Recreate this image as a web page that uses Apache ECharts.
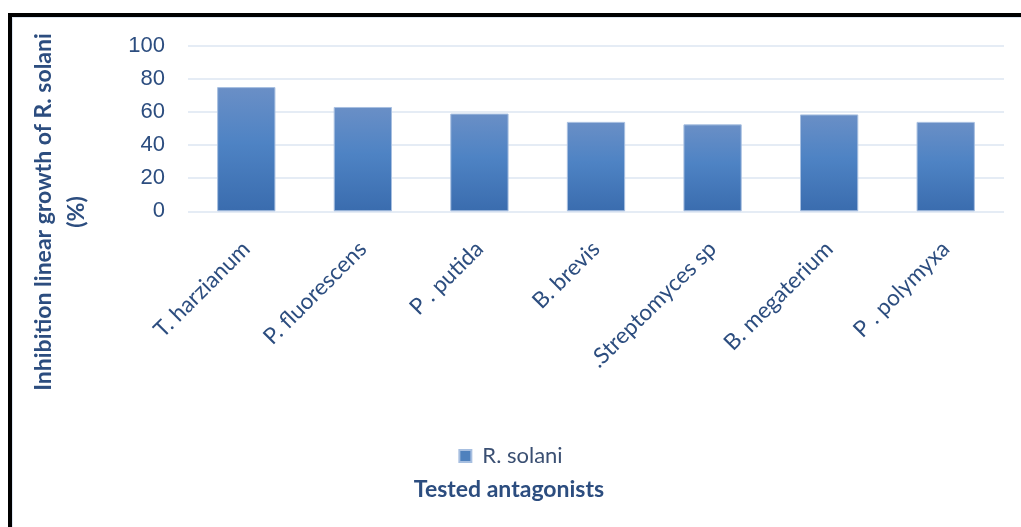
<!DOCTYPE html>
<html>
<head>
<meta charset="utf-8">
<script src="https://cdn.jsdelivr.net/npm/echarts@6/dist/echarts.min.js"></script>
<style>
  html, body { margin: 0; padding: 0; background: #ffffff; }
  #chart { position: absolute; left: 0; top: 0; width: 1021px; height: 527px; }
  #bt { position: absolute; left: 8px; top: 13px; width: 1013px; height: 4px; background: #000; }
  #bl { position: absolute; left: 8px; top: 13px; width: 4px; height: 514px; background: #000; }
  #it { position: absolute; left: 12px; top: 17px; width: 1009px; height: 1px; background: #dde6f1; }
  #il { position: absolute; left: 12px; top: 17px; width: 1px; height: 510px; background: #dde6f1; }
</style>
</head>
<body>
<div id="chart"></div>
<div id="bt"></div><div id="bl"></div><div id="it"></div><div id="il"></div>
<script>
const categories = ['T. harzianum', 'P. fluorescens', 'P . putida', 'B. brevis', '.Streptomyces sp', 'B. megaterium', 'P . polymyxa'];
const seriesName = 'R. solani';
const inhibition = [75, 63, 59, 54, 52.5, 58.5, 54];
const yTicks = { min: 0, max: 100, interval: 20 };
const yTitle = 'Inhibition linear growth of R. solani\n(%)';
const xTitle = 'Tested antagonists';

const textColor = '#2c4d7f';
const chart = echarts.init(document.getElementById('chart'), null, { renderer: 'canvas' });
chart.setOption({
  animation: false,
  backgroundColor: '#ffffff',
  grid: { left: 188, right: 17, top: 45.7, bottom: 315.7, containLabel: false },
  legend: {
    data: [seriesName],
    left: 'center',
    top: 440,
    icon: 'rect',
    itemWidth: 12,
    itemHeight: 12,
    itemStyle: { color: '#4f81bd' },
    textStyle: { color: '#3a4f72', fontFamily: 'Lato', fontSize: 22, padding: [0, 0, 0, 6] }
  },
  xAxis: {
    type: 'category',
    data: categories,
    axisLine: { show: false },
    axisTick: { show: false },
    axisLabel: {
      rotate: 45,
      margin: 34,
      interval: 0,
      color: textColor,
      fontFamily: 'Lato',
      fontSize: 22.5
    }
  },
  yAxis: {
    type: 'value',
    min: yTicks.min,
    max: yTicks.max,
    interval: yTicks.interval,
    axisLine: { show: false },
    axisTick: { show: false },
    axisLabel: { margin: 23, color: textColor, fontFamily: 'Liberation Sans', fontSize: 22 },
    splitLine: { lineStyle: { color: '#dce6f2', width: 1.5 } }
  },
  graphic: [
    {
      type: 'text',
      x: 60, y: 212,
      rotation: Math.PI / 2,
      style: {
        text: yTitle,
        align: 'center',
        verticalAlign: 'middle',
        fill: textColor,
        font: 'bold 23px Lato',
        lineHeight: 33
      }
    },
    {
      type: 'text',
      x: 509, y: 490,
      style: {
        text: xTitle,
        align: 'center',
        verticalAlign: 'middle',
        fill: textColor,
        font: 'bold 23px Lato'
      }
    }
  ],
  series: [{
    name: seriesName,
    type: 'bar',
    data: inhibition,
    barWidth: '50%',
    itemStyle: {
      borderColor: '#a7bfe0',
      borderWidth: 1,
      color: new echarts.graphic.LinearGradient(0, 0, 0, 1, [
        { offset: 0, color: '#6a8fc6' },
        { offset: 0.45, color: '#4e83c4' },
        { offset: 1, color: '#3a6cae' }
      ])
    }
  }]
});
</script>
</body>
</html>
